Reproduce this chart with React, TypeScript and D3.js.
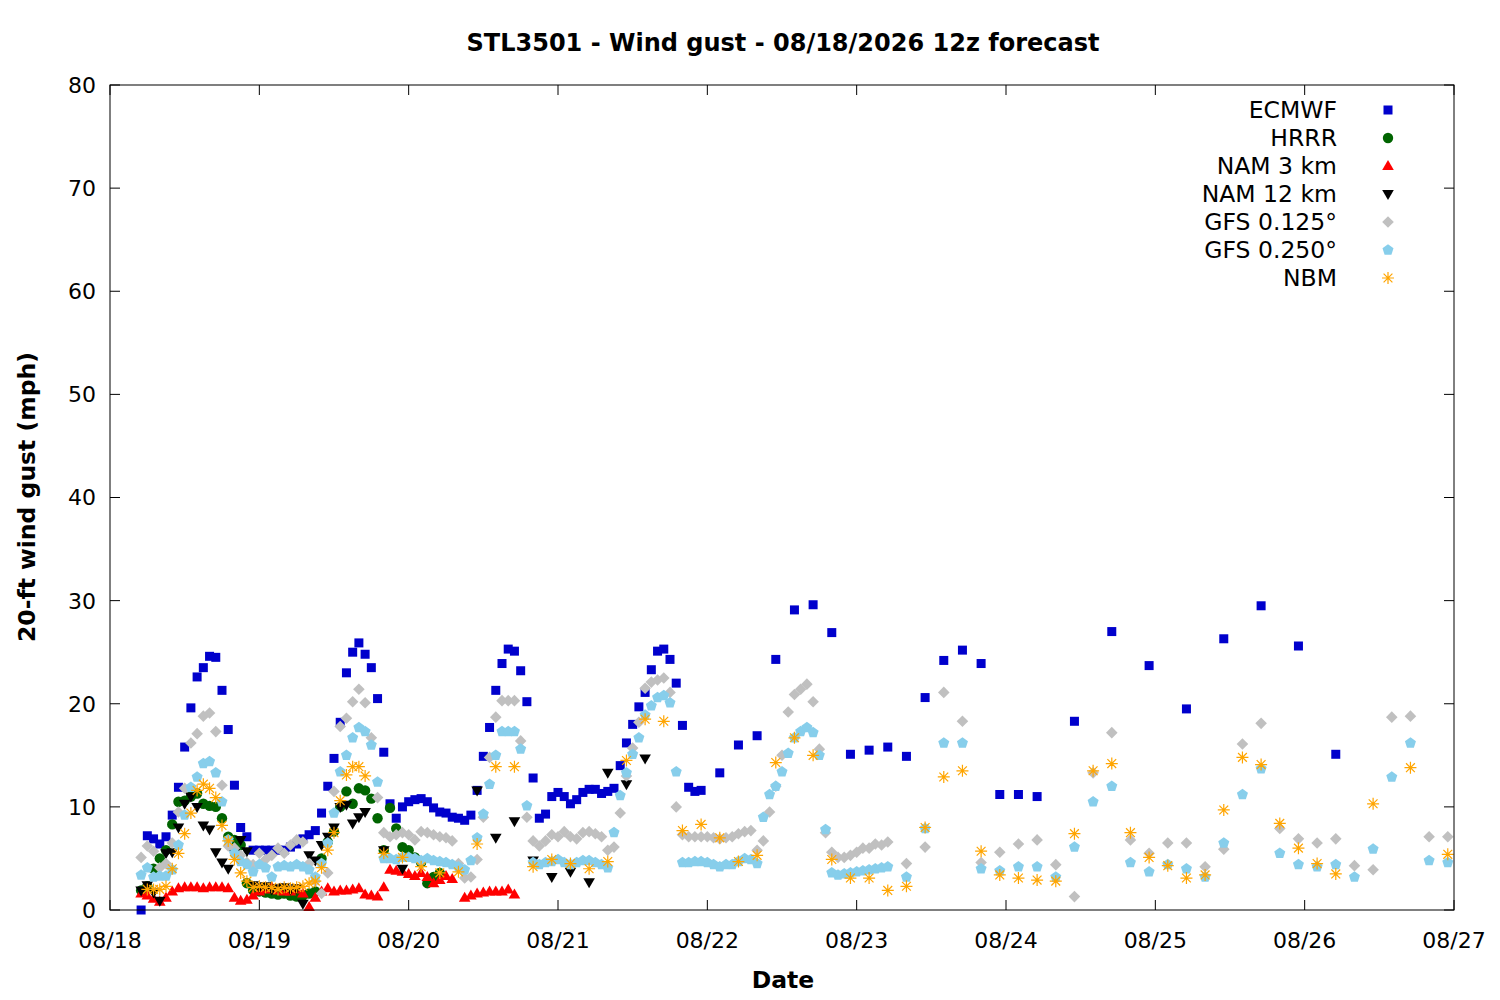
import React from 'react';
import * as d3 from 'd3';

// forecast hours counted from 08/18 00 on the axis
const ecmwfHours = [...d3.range(5, 96), ...d3.range(98, 150, 3), ...d3.range(155, 198, 6)];
const ecmwfGust = [
  0, 7.2, 6.9, 6.4, 7.1, 9.2, 11.9, 15.8, 19.6, 22.6,
  23.5, 24.6, 24.5, 21.3, 17.5, 12.1, 8.0, 7.1, 5.8, 5.8,
  5.8, 5.8, 5.8, 5.8, 6.1, 6.4, 6.9, 7.3, 7.7, 9.4,
  12.0, 14.7, 18.2, 23.0, 25.0, 25.9, 24.8, 23.5, 20.5, 15.3,
  10.3, 8.9, 10.0, 10.5, 10.7, 10.8, 10.5, 9.9, 9.5, 9.4,
  9.0, 8.9, 8.7, 9.2, 11.6, 14.9, 17.7, 21.3, 23.9, 25.3,
  25.1, 23.2, 20.2, 12.8, 8.9, 9.3, 11.0, 11.4, 11.0, 10.3,
  10.7, 11.4, 11.7, 11.7, 11.3, 11.5, 11.8, 14.0, 16.2, 18.0,
  19.7, 21.1, 23.3, 25.1, 25.3, 24.3, 22.0, 17.9, 11.9, 11.5,
  11.6,
  13.3, 16.0, 16.9, 24.3, 29.1, 29.6, 26.9, 15.1, 15.5, 15.8,
  14.9, 20.6, 24.2, 25.2, 23.9, 11.2, 11.2, 11.0,
  18.3, 27.0, 23.7, 19.5, 26.3, 29.5, 25.6, 15.1,
];

const hrrrHours = d3.range(5, 54);
const hrrrGust = [
  1.9, 2.3, 4.0, 5.0, 5.8, 8.3, 10.5, 10.6, 11.0, 11.3,
  10.3, 10.1, 10.0, 8.9, 7.1, 6.8, 6.3, 2.6, 1.9, 1.8,
  1.7, 1.6, 1.5, 1.6, 1.4, 1.3, 1.4, 1.6, 1.8, 5.0,
  6.6, 7.6, 10.0, 11.5, 10.3, 11.8, 11.6, 10.8, 8.9, 5.8,
  9.9, 7.9, 6.1, 5.8, 5.1, 4.6, 2.6, 3.2, 3.6,
];

const nam3Hours = [...d3.range(5, 56), ...d3.range(57, 66)];
const nam3Gust = [
  1.6, 1.4, 1.1, 0.8, 1.2, 1.8, 2.1, 2.2, 2.2, 2.2,
  2.1, 2.2, 2.2, 2.2, 2.1, 1.2, 0.9, 1.0, 1.4, 1.8,
  2.0, 2.2, 1.9, 1.8, 1.8, 2.0, 1.6, 0.3, 1.2, 1.8,
  2.1, 1.8, 1.9, 1.9, 2.0, 2.1, 1.5, 1.4, 1.3, 2.2,
  3.9, 3.8, 3.7, 3.5, 3.3, 3.6, 3.2, 2.6, 2.9, 3.3, 3.0,
  1.2, 1.4, 1.6, 1.7, 1.8, 1.8, 1.8, 2.0, 1.5,
];

const nam12Hours = [...d3.range(5, 42), 44, 47, 59, 62, 65, 68, 71, 74, 77, 80, 83, 86];
const nam12Gust = [
  1.9, 2.4, 1.7, 0.9, 5.5, 5.6, 8.0, 10.3, 11.0, 10.0,
  8.2, 7.8, 5.6, 4.6, 4.0, 5.5, 6.8, 5.7, 2.4, 2.2,
  2.3, 2.0, 2.1, 2.2, 2.0, 2.1, 0.6, 5.3, 4.8, 6.3,
  7.1, 8.0, 10.0, 10.2, 8.4, 9.0, 9.5,
  5.8, 4.0, 11.6, 7.0, 8.6, 4.8, 3.2, 3.7, 2.7, 13.3, 12.2, 14.7,
];

const gfs125Hours = [...d3.range(5, 126), ...d3.range(128, 216, 3)];
const gfs125Gust = [
  5.1, 6.2, 5.7, 4.1, 4.5, 6.5, 9.5, 11.8, 16.2, 17.1,
  18.8, 19.1, 17.3, 12.1, 6.2, 6.0, 5.3, 4.6, 4.4, 5.5,
  4.9, 5.3, 6.0, 5.5, 6.3, 6.8, 6.6, 4.5, 2.8, 1.6,
  3.6, 11.5, 17.8, 18.6, 20.2, 21.4, 20.1, 16.7, 10.9, 7.5,
  7.1, 7.3, 7.5, 7.3, 6.8, 7.6, 7.5, 7.3, 7.1, 7.0,
  6.7, 4.5, 3.1, 3.2, 4.9, 9.0, 14.8, 18.7, 20.3, 20.3,
  20.3, 16.4, 9.0, 6.7, 6.2, 6.7, 7.3, 7.1, 7.6, 7.1,
  6.9, 7.5, 7.6, 7.4, 7.1, 5.8, 6.1, 9.4, 13.0, 15.7,
  18.2, 21.5, 22.1, 22.3, 22.5, 21.1, 10.0, 7.3, 7.1, 7.1,
  7.1, 7.1, 7.0, 6.9, 7.0, 7.1, 7.4, 7.6, 7.7, 5.8,
  6.7, 9.5, 12.0, 15.0, 19.2, 20.9, 21.4, 21.9, 20.2, 15.6,
  7.5, 5.6, 5.1, 5.1, 5.3, 5.6, 6.0, 6.0, 6.4, 6.3,
  6.6,
  4.5, 6.1, 21.1, 18.3, 4.6, 5.6, 6.4, 6.8, 4.4, 1.3,
  13.3, 17.2, 6.8, 5.5, 6.5, 6.5, 4.2, 5.9, 16.1, 18.1,
  7.9, 6.9, 6.5, 6.9, 4.3, 3.9, 18.7, 18.8, 7.1, 7.1,
];

const gfs250Hours = [...d3.range(5, 126), ...d3.range(128, 216, 3)];
const gfs250Gust = [
  3.4, 4.1, 3.2, 3.3, 3.3, 3.9, 6.3, 9.2, 11.9, 12.9,
  14.2, 14.4, 13.3, 10.5, 6.8, 5.5, 4.7, 4.4, 3.7, 4.4,
  4.1, 3.2, 4.2, 4.3, 4.2, 4.4, 4.2, 3.9, 3.2, 4.5,
  6.5, 9.4, 13.4, 15.0, 16.7, 17.7, 17.3, 16.0, 12.4, 5.0,
  5.0, 4.9, 5.1, 5.1, 5.0, 4.8, 5.0, 4.8, 4.7, 4.6,
  4.4, 4.2, 3.9, 4.8, 7.0, 9.3, 12.2, 15.0, 17.3, 17.3,
  17.3, 15.6, 10.1, 4.6, 4.4, 4.6, 4.7, 4.9, 4.6, 4.4,
  4.6, 4.8, 4.8, 4.6, 4.4, 4.1, 7.5, 11.1, 13.3, 15.1,
  16.7, 18.9, 19.8, 20.6, 20.8, 20.1, 13.4, 4.6, 4.6, 4.7,
  4.7, 4.6, 4.4, 4.2, 4.4, 4.4, 4.7, 5.0, 4.9, 4.5,
  9.0, 11.2, 12.0, 13.4, 15.2, 16.7, 17.3, 17.7, 17.2, 15.0,
  7.8, 3.6, 3.4, 3.5, 3.6, 3.7, 3.8, 3.9, 4.0, 4.1,
  4.2,
  3.2, 7.9, 16.2, 16.2, 4.0, 3.8, 4.2, 4.2, 3.2, 6.1,
  10.5, 12.0, 4.6, 3.7, 4.4, 4.0, 3.2, 6.5, 11.2, 13.7,
  5.5, 4.4, 4.2, 4.4, 3.2, 5.9, 12.9, 16.2, 4.8, 4.6,
];

const nbmHours = [...d3.range(6, 42), ...d3.range(44, 198, 3), 203, 209, 215];
const nbmGust = [
  2.0, 2.0, 2.0, 2.3, 4.0, 5.5, 7.4, 9.4, 11.6, 12.2,
  11.8, 10.9, 8.2, 6.7, 4.9, 3.6, 2.8, 2.2, 2.3, 2.2,
  2.2, 2.0, 2.2, 2.1, 2.2, 2.3, 2.6, 2.8, 4.1, 5.8,
  7.5, 10.6, 13.1, 13.9, 13.9, 13.0,
  5.5, 5.1, 4.2, 3.6, 3.7, 6.4, 13.9, 13.9, 4.2, 4.9,
  4.5, 4.0, 4.7, 14.5, 18.5, 18.3, 7.7, 8.3, 7.0, 4.7,
  5.3, 14.3, 16.7, 15.0, 4.9, 3.1, 3.1, 1.9, 2.3, 8.0,
  12.9, 13.5, 5.7, 3.4, 3.1, 2.9, 2.8, 7.4, 13.5, 14.2,
  7.5, 5.1, 4.3, 3.1, 3.4, 9.7, 14.8, 14.1, 8.4, 6.0,
  4.5, 3.5,
  10.3, 13.8, 5.4,
];

const seriesNames = ['ECMWF', 'HRRR', 'NAM 3 km', 'NAM 12 km', 'GFS 0.125°', 'GFS 0.250°', 'NBM'];
const seriesColors = ['#0000cc', '#006400', '#ff0000', '#000000', '#c0c0c0', '#87ceeb', '#ffa500'];
const seriesShapes = ['square', 'circle', 'triUp', 'triDown', 'diamond', 'pentagon', 'star'];
const seriesHours = [ecmwfHours, hrrrHours, nam3Hours, nam12Hours, gfs125Hours, gfs250Hours, nbmHours];
const seriesGust = [ecmwfGust, hrrrGust, nam3Gust, nam12Gust, gfs125Gust, gfs250Gust, nbmGust];

const yTicks = [0, 10, 20, 30, 40, 50, 60, 70, 80];

const FONT = '"DejaVu Sans", sans-serif';
const t0 = Date.UTC(2026, 7, 18);
const toDate = (h: number) => new Date(t0 + h * 3600 * 1000);

const left = 110, right = 1454, top = 85, bottom = 910;

const pentagon = d3.range(5).map((k) => {
  const a = (-90 + 72 * k) * Math.PI / 180;
  return [5.8 * Math.cos(a), 5.8 * Math.sin(a)];
});

function Marker({ shape, color, x, y }: { shape: string; color: string; x: number; y: number }) {
  const tr = `translate(${x},${y})`;
  switch (shape) {
    case 'square':
      return <rect x={x - 4.5} y={y - 4.5} width={9} height={9} fill={color} />;
    case 'circle':
      return <circle cx={x} cy={y} r={5.2} fill={color} />;
    case 'triUp':
      return <path transform={tr} d="M0,-6L5.8,4L-5.8,4Z" fill={color} />;
    case 'triDown':
      return <path transform={tr} d="M0,6L5.8,-4L-5.8,-4Z" fill={color} />;
    case 'diamond':
      return <path transform={tr} d="M0,-5.8L5.8,0L0,5.8L-5.8,0Z" fill={color} />;
    case 'pentagon':
      return <path transform={tr} d={'M' + pentagon.map((p) => p.join(',')).join('L') + 'Z'} fill={color} />;
    default:
      return (
        <path
          transform={tr}
          d="M-6,0L6,0M0,-6L0,6M-4.4,-4.4L4.4,4.4M-4.4,4.4L4.4,-4.4"
          stroke={color}
          strokeWidth={1.2}
          fill="none"
        />
      );
  }
}

export default function App() {
  const x = d3.scaleUtc().domain([toDate(0), toDate(216)]).range([left, right]);
  const y = d3.scaleLinear().domain([0, 80]).range([bottom, top]);
  const days = x.ticks(d3.utcDay.every(1) as any);
  const fmt = d3.utcFormat('%m/%d');

  return (
    <svg width={1500} height={1000} style={{ position: 'absolute', left: 0, top: 0, background: '#fff' }} fontFamily={FONT}>
      <rect width={1500} height={1000} fill="#fff" />
      <text x={783} y={51} textAnchor="middle" fontSize={24} fontWeight="bold">
        STL3501 - Wind gust - 08/18/2026 12z forecast
      </text>

      {yTicks.map((v) => (
        <g key={'y' + v}>
          <line x1={left} x2={left + 10} y1={y(v)} y2={y(v)} stroke="#000" />
          <line x1={right - 10} x2={right} y1={y(v)} y2={y(v)} stroke="#000" />
          <text x={96} y={y(v)} dy="0.36em" textAnchor="end" fontSize={22}>{v}</text>
        </g>
      ))}
      {days.map((d) => (
        <g key={'x' + +d}>
          <line x1={x(d)} x2={x(d)} y1={bottom} y2={bottom - 10} stroke="#000" />
          <line x1={x(d)} x2={x(d)} y1={top} y2={top + 10} stroke="#000" />
          <text x={x(d)} y={948} textAnchor="middle" fontSize={22}>{fmt(d)}</text>
        </g>
      ))}

      {seriesNames.map((name, i) => (
        <g key={name}>
          {seriesHours[i].map((h, j) => (
            <Marker key={j} shape={seriesShapes[i]} color={seriesColors[i]} x={x(toDate(h))} y={y(seriesGust[i][j])} />
          ))}
        </g>
      ))}

      {seriesNames.map((name, i) => (
        <g key={'leg' + name}>
          <text x={1337} y={110 + 28 * i} dy="0.36em" textAnchor="end" fontSize={23.5}>{name}</text>
          <Marker shape={seriesShapes[i]} color={seriesColors[i]} x={1388} y={110 + 28 * i} />
        </g>
      ))}

      <rect x={left} y={top} width={right - left} height={bottom - top} fill="none" stroke="#000" />

      <text x={783} y={988} textAnchor="middle" fontSize={23.5} fontWeight="bold">Date</text>
      <text transform="translate(35,497) rotate(-90)" textAnchor="middle" fontSize={23.5} fontWeight="bold">
        20-ft wind gust (mph)
      </text>
    </svg>
  );
}
